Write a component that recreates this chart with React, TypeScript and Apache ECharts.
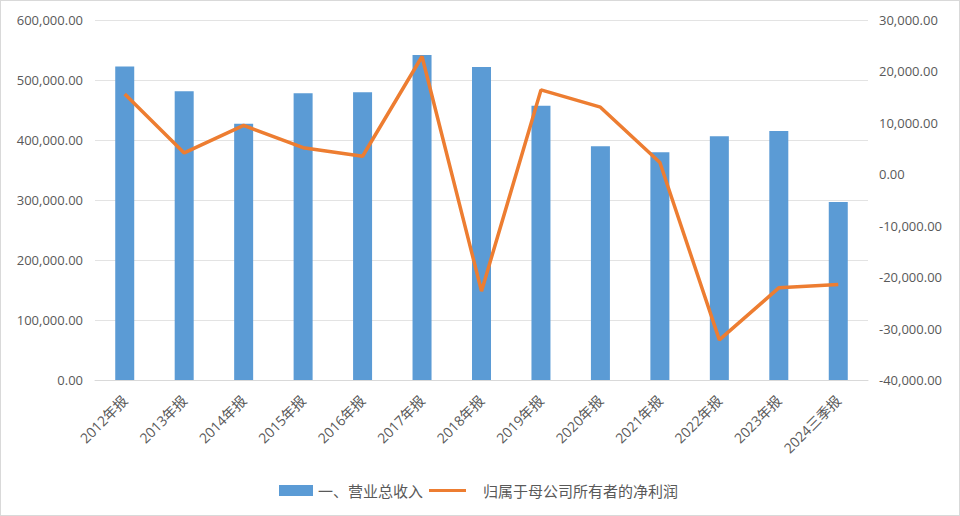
import React, { useEffect, useRef } from "react";
import * as echarts from "echarts";

const categories = [
  "2012年报", "2013年报", "2014年报", "2015年报", "2016年报", "2017年报", "2018年报",
  "2019年报", "2020年报", "2021年报", "2022年报", "2023年报", "2024三季报",
];
const revenue = [
  522600, 481200, 427100, 477900, 479600, 541500, 521600,
  456900, 389500, 379600, 406100, 414900, 296700,
];
const netProfit = [
  15630, 4150, 9500, 5180, 3510, 22900, -22730,
  16400, 13050, 2280, -32200, -22080, -21440,
];
const revenueName = "一、营业总收入";
const profitName = "归属于母公司所有者的净利润";

const FONT = "'Open Sans', 'Noto Sans CJK SC', sans-serif";
const fmt = (v: number) =>
  v.toLocaleString("en-US", { minimumFractionDigits: 2, maximumFractionDigits: 2 });

export default function App() {
  const ref = useRef<HTMLDivElement>(null);
  useEffect(() => {
    if (!ref.current) return;
    const chart = echarts.init(ref.current, undefined, { renderer: "svg" });
    chart.setOption({
      animation: false,
      backgroundColor: "#ffffff",
      textStyle: { fontFamily: FONT },
      grid: { left: 94, right: 91, top: 19, bottom: 135, containLabel: false },
      legend: [
        {
          data: [{ name: revenueName, icon: "rect" }],
          left: 278,
          top: 482,
          padding: 0,
          itemWidth: 34,
          itemHeight: 11,
          itemGap: 4,
          textStyle: { color: "#595959", fontSize: 15, fontFamily: FONT },
        },
        {
          data: [{ name: profitName, icon: "rect" }],
          left: 428,
          top: 482,
          padding: 0,
          itemWidth: 37,
          itemHeight: 3,
          textStyle: { color: "#595959", fontSize: 15, fontFamily: FONT, padding: [0, 0, 0, 12] },
        },
      ],
      xAxis: {
        type: "category",
        data: categories,
        axisLine: { lineStyle: { color: "#d9d9d9", width: 1 } },
        axisTick: { show: false },
        axisLabel: {
          rotate: 45,
          interval: 0,
          margin: 18,
          color: "#595959",
          fontSize: 14,
          fontFamily: FONT,
        },
      },
      yAxis: [
        {
          type: "value",
          min: 0,
          max: 600000,
          interval: 100000,
          axisLine: { show: false },
          axisTick: { show: false },
          splitLine: { lineStyle: { color: "#e3e3e3", width: 1 } },
          axisLabel: { color: "#595959", fontSize: 13, margin: 12, formatter: fmt, fontFamily: FONT },
        },
        {
          type: "value",
          min: -40000,
          max: 30000,
          interval: 10000,
          position: "right",
          axisLine: { show: false },
          axisTick: { show: false },
          splitLine: { show: false },
          axisLabel: { color: "#595959", fontSize: 13, margin: 11, formatter: fmt, fontFamily: FONT },
        },
      ],
      series: [
        {
          name: revenueName,
          type: "bar",
          data: revenue,
          barWidth: 19,
          itemStyle: { color: "#5B9BD5" },
          yAxisIndex: 0,
        },
        {
          name: profitName,
          type: "line",
          data: netProfit,
          yAxisIndex: 1,
          symbol: "none",
          lineStyle: { color: "#ED7D31", width: 3.5 },
          itemStyle: { color: "#ED7D31" },
        },
      ],
    });
    return () => chart.dispose();
  }, []);
  return (
    <div
      ref={ref}
      style={{
        position: "fixed",
        left: 0,
        top: 0,
        width: 960,
        height: 516,
        boxSizing: "border-box",
        border: "1px solid #d9d9d9",
        background: "#fff",
      }}
    />
  );
}
